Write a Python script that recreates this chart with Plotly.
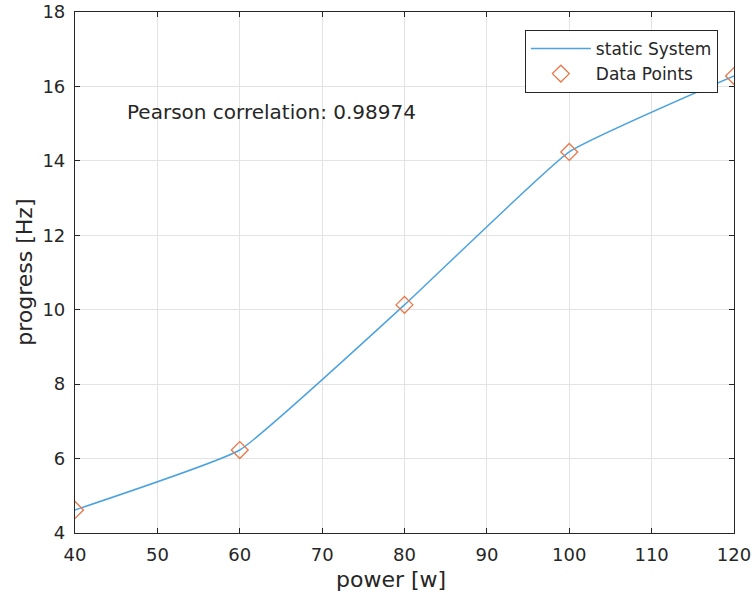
import plotly.graph_objects as go

# Measured power levels and the resulting progress frequency
power_w = [40, 60, 80, 100, 120]
progress_hz = [4.62, 6.23, 10.13, 14.24, 16.28]
pearson_r = 0.98974

x_ticks = [40, 50, 60, 70, 80, 90, 100, 110, 120]
y_ticks = [4, 6, 8, 10, 12, 14, 16, 18]

font_family = "DejaVu Sans"
axis_color = "#262626"

fig = go.Figure()

fig.add_trace(go.Scatter(
    x=power_w, y=progress_hz,
    mode="lines",
    name="static System",
    line=dict(color="#4DA3DF", width=1.5, shape="spline", smoothing=0.35),
))

fig.add_trace(go.Scatter(
    x=power_w, y=progress_hz,
    mode="markers",
    name="Data Points",
    marker=dict(symbol="diamond-open", size=13, color="#E8774A",
                line=dict(width=1.3, color="#E8774A")),
))

fig.add_annotation(
    x=46.05, y=15.32, xref="x", yref="y",
    text=f"Pearson correlation: {pearson_r:.5f}",
    showarrow=False, xanchor="left", yanchor="middle",
    font=dict(family=font_family, size=20, color=axis_color),
)

# Axis titles placed as paper annotations
title_font = dict(family=font_family, size=22, color=axis_color)
fig.add_annotation(
    x=0.48, y=-0.0902, xref="paper", yref="paper",
    text="power [w]", showarrow=False, xanchor="center", yanchor="middle",
    font=title_font,
)
fig.add_annotation(
    x=-0.077, y=0.5, xref="paper", yref="paper",
    text="progress [Hz]", showarrow=False, xanchor="center", yanchor="middle",
    textangle=-90, font=title_font,
)

axis_common = dict(
    showline=True, linecolor=axis_color, linewidth=1.2, mirror="ticks",
    ticks="inside", ticklen=5, tickcolor=axis_color,
    showgrid=True, gridcolor="#E3E3E3", gridwidth=1,
    zeroline=False, automargin=False,
    tickfont=dict(family=font_family, size=18, color=axis_color),
)

fig.update_xaxes(range=[40, 120], tickvals=x_ticks, ticklabelstandoff=5, **axis_common)
fig.update_yaxes(range=[4, 18], tickvals=y_ticks, ticklabelstandoff=5, **axis_common)

fig.update_layout(
    width=754, height=597,
    margin=dict(l=75, r=20, t=12, b=64),
    plot_bgcolor="white", paper_bgcolor="white",
    showlegend=True,
    legend=dict(
        x=0.9755, y=0.9655, xanchor="right", yanchor="top",
        bgcolor="white", bordercolor=axis_color, borderwidth=1,
        font=dict(family=font_family, size=17, color=axis_color),
        itemwidth=60, tracegroupgap=0,
    ),
)

fig.write_html("out.html")
